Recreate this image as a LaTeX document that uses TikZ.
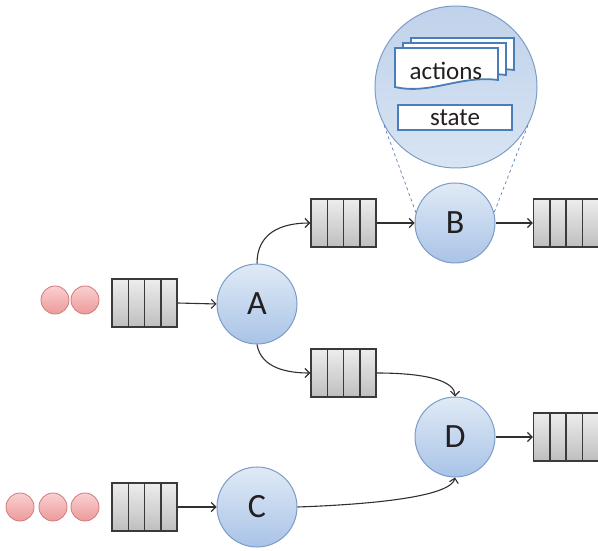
\documentclass[tikz,border=0pt]{standalone}
\usepackage{fontspec}
\setmainfont{Carlito}
\usetikzlibrary{arrows.meta,calc}
\definecolor{nodeborder}{HTML}{7C9CC8}
\definecolor{nodetop}{HTML}{E0EAF6}
\definecolor{nodebot}{HTML}{A9C3E7}
\definecolor{zoomtop}{HTML}{C0D2EA}
\definecolor{zoombot}{HTML}{D8E4F3}
\definecolor{letter}{HTML}{231F20}
\definecolor{qborder}{HTML}{3A3A3A}
\definecolor{qtop}{HTML}{EDEDED}
\definecolor{qbot}{HTML}{BEBEBE}
\definecolor{dotborder}{HTML}{D27A7A}
\definecolor{dottop}{HTML}{FAD0D0}
\definecolor{dotbot}{HTML}{EC9A9A}
\definecolor{arrowc}{HTML}{303030}
\definecolor{dashc}{HTML}{5B7FB5}
\definecolor{boxblue}{HTML}{4A7EBB}
\tikzset{
  proc/.style={circle, minimum size=80pt, inner sep=0pt, draw=nodeborder, line width=1pt,
    top color=nodetop, bottom color=nodebot, font=\fontsize{34}{34}\selectfont, text=letter},
  queue/.style={rectangle, minimum width=65pt, minimum height=48pt, inner sep=0pt,
    draw=qborder, line width=1.5pt, top color=qtop, bottom color=qbot,
    path picture={
      \foreach \i in {1,2,3}{
        \draw[qborder, line width=1.5pt]
          ($(path picture bounding box.south west)!\i/4!(path picture bounding box.south east)$) --
          ($(path picture bounding box.north west)!\i/4!(path picture bounding box.north east)$);
      }
    }},
  dot/.style={circle, minimum size=28pt, inner sep=0pt, draw=dotborder, line width=0.8pt,
    top color=dottop, bottom color=dotbot},
  conn/.style={draw=arrowc, line width=1.1pt, -{Straight Barb[length=4.5pt,width=9pt]}},
  zoomline/.style={draw=dashc, dashed, line width=0.7pt},
  doc/.style={draw=boxblue, line width=1.8pt, fill=white},
  boxtext/.style={font=\fontsize{25}{25}\selectfont, text=letter, inner sep=0pt},
}
\begin{document}
\begin{tikzpicture}[x=1pt, y=1pt]
\useasboundingbox (0,0) rectangle (598,550);
% zoomed view of B
\node[circle, minimum size=162pt, inner sep=0pt, draw=nodeborder, line width=1pt,
  top color=zoomtop, bottom color=zoombot] (zoom) at (456,463) {};
\draw[doc, shift={(16,10)}] (395,463) -- (395,502) -- (498,502) -- (498,470)
  .. controls (460,475) and (430,455) .. (395,463) -- cycle;
\draw[doc, shift={(8,5)}] (395,463) -- (395,502) -- (498,502) -- (498,470)
  .. controls (460,475) and (430,455) .. (395,463) -- cycle;
\draw[doc] (395,463) -- (395,502) -- (498,502) -- (498,470)
  .. controls (460,475) and (430,455) .. (395,463) -- cycle;
\node[boxtext] (actions) at (446,479) {actions};
\draw[doc] (398,420) rectangle (512,445);
\node[boxtext] (state) at (455,432) {state};
% process nodes
\node[proc] (A) at (257,246) {A};
\node[proc] (B) at (455,327) {B};
\node[proc] (D) at (455,113) {D};
\node[proc] (C) at (257,43) {C};
% queues
\node[queue] (q1) at (144.5,247) {};
\node[queue] (q2) at (343.5,327) {};
\node[queue] (q3) at (566,327) {};
\node[queue] (q4) at (343.5,177) {};
\node[queue] (q5) at (566,113) {};
\node[queue] (q6) at (144.5,43) {};
% messages
\node[dot] (m1) at (55,250) {};
\node[dot] (m2) at (85,250) {};
\node[dot] (m3) at (20,43) {};
\node[dot] (m4) at (53,43) {};
\node[dot] (m5) at (85,43) {};
% zoom lines
\draw[zoomline] (zoom.208) -- (B.165);
\draw[zoomline] (zoom.332) -- (B.15);
% connectors
\draw[conn] (q1.east) -- (A.west);
\draw[conn] (A.north) .. controls +(0,30) and +(-30,0) .. (q2.west);
\draw[conn] (q2.east) -- (B.west);
\draw[conn] (B.east) -- (q3.west);
\draw[conn] (A.south) .. controls +(4,-24) and +(-22,0) .. (q4.west);
\draw[conn] (q4.east) .. controls +(55,0) and +(0,14) .. (D.north);
\draw[conn] (D.east) -- (q5.west);
\draw[conn] (q6.east) -- (C.west);
\draw[conn] (C.east) .. controls +(85,3) and +(-4,-18) .. (D.south);
\end{tikzpicture}
\end{document}
